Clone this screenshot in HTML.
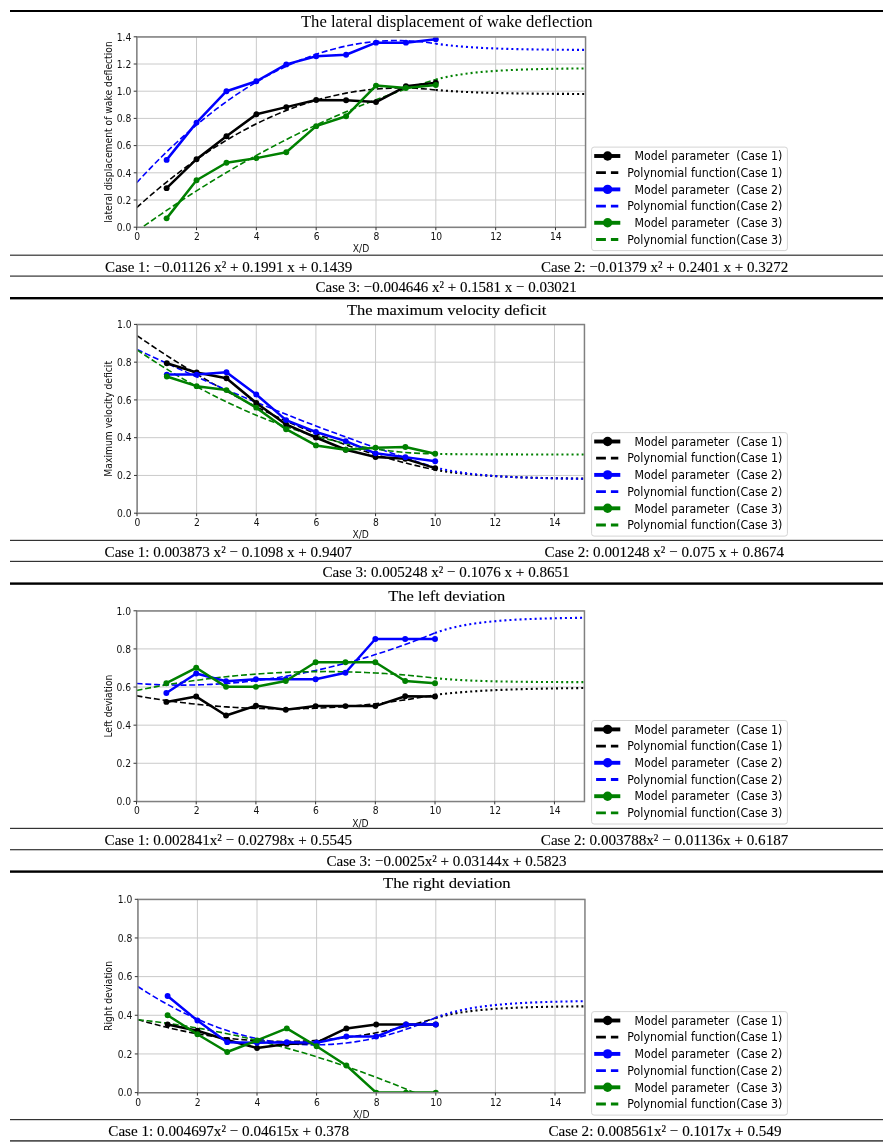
<!DOCTYPE html>
<html><head><meta charset="utf-8"><title>Wake model parameters</title>
<style>
html,body{margin:0;padding:0;background:#fff;}
body{width:892px;height:1147px;position:relative;overflow:hidden;}
svg{position:absolute;left:0;top:0;}
</style></head><body>

<svg width="892" height="1147" viewBox="0 0 892 1147">
<rect x="10" y="10.00" width="873" height="2.00" fill="#000"/>
<rect x="10" y="254.60" width="873" height="1.20" fill="#333"/>
<rect x="10" y="275.50" width="873" height="1.20" fill="#333"/>
<rect x="10" y="297.00" width="873" height="2.40" fill="#000"/>
<rect x="10" y="539.80" width="873" height="1.20" fill="#333"/>
<rect x="10" y="560.80" width="873" height="1.20" fill="#333"/>
<rect x="10" y="582.40" width="873" height="2.40" fill="#000"/>
<rect x="10" y="827.80" width="873" height="1.20" fill="#333"/>
<rect x="10" y="849.10" width="873" height="1.20" fill="#333"/>
<rect x="10" y="870.40" width="873" height="2.40" fill="#000"/>
<rect x="10" y="1119.00" width="873" height="1.20" fill="#333"/>
<rect x="10" y="1140.20" width="873" height="1.40" fill="#2a2a2a"/>
<g font-family="'Liberation Serif', serif" fill="#000">
<text x="300.90" y="26.80" font-size="16.2" textLength="291.80" lengthAdjust="spacingAndGlyphs">The lateral displacement of wake deflection</text>
<text x="105.10" y="271.70" font-size="15.5" textLength="247.20" lengthAdjust="spacingAndGlyphs" stroke="#000" stroke-width="0.12">Case 1: −0.01126 x<tspan font-size="15.5" dy="0">²</tspan><tspan dy="0"> + 0.1991 x + 0.1439</tspan></text>
<text x="541.00" y="271.70" font-size="15.5" textLength="247.30" lengthAdjust="spacingAndGlyphs" stroke="#000" stroke-width="0.12">Case 2: −0.01379 x<tspan font-size="15.5" dy="0">²</tspan><tspan dy="0"> + 0.2401 x + 0.3272</tspan></text>
<text x="315.60" y="292.40" font-size="15.5" textLength="261.20" lengthAdjust="spacingAndGlyphs" stroke="#000" stroke-width="0.12">Case 3: −0.004646 x<tspan font-size="15.5" dy="0">²</tspan><tspan dy="0"> + 0.1581 x − 0.03021</tspan></text>
<text x="347.00" y="315.00" font-size="15.2" textLength="199.30" lengthAdjust="spacingAndGlyphs" stroke="#000" stroke-width="0.12">The maximum velocity deficit</text>
<text x="104.60" y="556.50" font-size="15.5" textLength="247.50" lengthAdjust="spacingAndGlyphs" stroke="#000" stroke-width="0.12">Case 1: 0.003873 x<tspan font-size="15.5" dy="0">²</tspan><tspan dy="0"> − 0.1098 x + 0.9407</tspan></text>
<text x="544.60" y="556.50" font-size="15.5" textLength="239.40" lengthAdjust="spacingAndGlyphs" stroke="#000" stroke-width="0.12">Case 2: 0.001248 x<tspan font-size="15.5" dy="0">²</tspan><tspan dy="0"> − 0.075 x + 0.8674</tspan></text>
<text x="322.40" y="577.30" font-size="15.5" textLength="247.20" lengthAdjust="spacingAndGlyphs" stroke="#000" stroke-width="0.12">Case 3: 0.005248 x<tspan font-size="15.5" dy="0">²</tspan><tspan dy="0"> − 0.1076 x + 0.8651</tspan></text>
<text x="388.30" y="600.60" font-size="15.2" textLength="116.90" lengthAdjust="spacingAndGlyphs" stroke="#000" stroke-width="0.12">The left deviation</text>
<text x="104.60" y="844.50" font-size="15.5" textLength="247.50" lengthAdjust="spacingAndGlyphs" stroke="#000" stroke-width="0.12">Case 1: 0.002841x<tspan font-size="15.5" dy="0">²</tspan><tspan dy="0"> − 0.02798x + 0.5545</tspan></text>
<text x="540.80" y="844.50" font-size="15.5" textLength="247.60" lengthAdjust="spacingAndGlyphs" stroke="#000" stroke-width="0.12">Case 2: 0.003788x<tspan font-size="15.5" dy="0">²</tspan><tspan dy="0"> − 0.01136x + 0.6187</tspan></text>
<text x="326.50" y="865.70" font-size="15.5" textLength="240.00" lengthAdjust="spacingAndGlyphs" stroke="#000" stroke-width="0.12">Case 3: −0.0025x<tspan font-size="15.5" dy="0">²</tspan><tspan dy="0"> + 0.03144x + 0.5823</tspan></text>
<text x="383.00" y="888.30" font-size="15.2" textLength="127.60" lengthAdjust="spacingAndGlyphs" stroke="#000" stroke-width="0.12">The right deviation</text>
<text x="108.30" y="1135.60" font-size="15.5" textLength="240.70" lengthAdjust="spacingAndGlyphs" stroke="#000" stroke-width="0.12">Case 1: 0.004697x<tspan font-size="15.5" dy="0">²</tspan><tspan dy="0"> − 0.04615x + 0.378</tspan></text>
<text x="548.40" y="1135.60" font-size="15.5" textLength="233.10" lengthAdjust="spacingAndGlyphs" stroke="#000" stroke-width="0.12">Case 2: 0.008561x<tspan font-size="15.5" dy="0">²</tspan><tspan dy="0"> − 0.1017x + 0.549</tspan></text>
</g>
<defs><clipPath id="clip0"><rect x="136.70" y="36.80" width="448.70" height="190.40"/></clipPath></defs>
<path d="M136.70 36.80V227.20M196.53 36.80V227.20M256.35 36.80V227.20M316.18 36.80V227.20M376.01 36.80V227.20M435.83 36.80V227.20M495.66 36.80V227.20M555.49 36.80V227.20M136.70 227.20H585.40M136.70 200.00H585.40M136.70 172.80H585.40M136.70 145.60H585.40M136.70 118.40H585.40M136.70 91.20H585.40M136.70 64.00H585.40M136.70 36.80H585.40" stroke="#cacaca" stroke-width="1" fill="none"/>
<g clip-path="url(#clip0)" fill="none">
<polyline points="435.83,89.99 438.33,90.20 440.82,90.40 443.31,90.59 445.80,90.77 448.30,90.95 450.79,91.11 453.28,91.26 455.78,91.41 458.27,91.55 460.76,91.69 463.25,91.81 465.75,91.93 468.24,92.05 470.73,92.15 473.23,92.26 475.72,92.35 478.21,92.45 480.70,92.53 483.20,92.62 485.69,92.70 488.18,92.77 490.67,92.84 493.17,92.91 495.66,92.98 498.15,93.04 500.65,93.10 503.14,93.15 505.63,93.20 508.12,93.25 510.62,93.30 513.11,93.34 515.60,93.39 518.10,93.43 520.59,93.47 523.08,93.50 525.57,93.54 528.07,93.57 530.56,93.60 533.05,93.63 535.54,93.66 538.04,93.69 540.53,93.71 543.02,93.74 545.52,93.76 548.01,93.78 550.50,93.80 552.99,93.82 555.49,93.84 557.98,93.86 560.47,93.87 562.96,93.89 565.46,93.91 567.95,93.92 570.44,93.93 572.94,93.95 575.43,93.96 577.92,93.97 580.41,93.98 582.91,93.99 585.40,94.00" stroke="#000000" stroke-width="2.1" stroke-dasharray="2 3.05"/>
<polyline points="435.83,43.71 438.33,44.06 440.82,44.40 443.31,44.71 445.80,45.01 448.30,45.29 450.79,45.56 453.28,45.81 455.78,46.05 458.27,46.27 460.76,46.49 463.25,46.69 465.75,46.88 468.24,47.06 470.73,47.22 473.23,47.38 475.72,47.54 478.21,47.68 480.70,47.81 483.20,47.94 485.69,48.06 488.18,48.18 490.67,48.28 493.17,48.38 495.66,48.48 498.15,48.57 500.65,48.66 503.14,48.74 505.63,48.81 508.12,48.89 510.62,48.96 513.11,49.02 515.60,49.08 518.10,49.14 520.59,49.19 523.08,49.24 525.57,49.29 528.07,49.34 530.56,49.38 533.05,49.42 535.54,49.46 538.04,49.50 540.53,49.53 543.02,49.57 545.52,49.60 548.01,49.63 550.50,49.65 552.99,49.68 555.49,49.71 557.98,49.73 560.47,49.75 562.96,49.77 565.46,49.79 567.95,49.81 570.44,49.83 572.94,49.84 575.43,49.86 577.92,49.87 580.41,49.89 582.91,49.90 585.40,49.91" stroke="#0000ff" stroke-width="2.1" stroke-dasharray="2 3.05"/>
<polyline points="435.83,79.48 438.33,78.83 440.82,78.22 443.31,77.65 445.80,77.11 448.30,76.59 450.79,76.11 453.28,75.66 455.78,75.23 458.27,74.82 460.76,74.44 463.25,74.08 465.75,73.74 468.24,73.42 470.73,73.12 473.23,72.83 475.72,72.56 478.21,72.31 480.70,72.07 483.20,71.84 485.69,71.63 488.18,71.43 490.67,71.24 493.17,71.06 495.66,70.89 498.15,70.73 500.65,70.58 503.14,70.44 505.63,70.31 508.12,70.18 510.62,70.06 513.11,69.95 515.60,69.84 518.10,69.74 520.59,69.65 523.08,69.56 525.57,69.48 528.07,69.40 530.56,69.32 533.05,69.25 535.54,69.19 538.04,69.12 540.53,69.06 543.02,69.01 545.52,68.96 548.01,68.91 550.50,68.86 552.99,68.81 555.49,68.77 557.98,68.73 560.47,68.70 562.96,68.66 565.46,68.63 567.95,68.60 570.44,68.57 572.94,68.54 575.43,68.51 577.92,68.49 580.41,68.47 582.91,68.44 585.40,68.42" stroke="#008000" stroke-width="2.1" stroke-dasharray="2 3.05"/>
<polyline points="136.70,207.63 141.69,203.16 146.67,198.77 151.66,194.47 156.64,190.26 161.63,186.13 166.61,182.08 171.60,178.12 176.58,174.25 181.57,170.46 186.56,166.75 191.54,163.13 196.53,159.60 201.51,156.15 206.50,152.79 211.48,149.51 216.47,146.31 221.45,143.20 226.44,140.18 231.43,137.24 236.41,134.39 241.40,131.62 246.38,128.93 251.37,126.33 256.35,123.82 261.34,121.39 266.32,119.05 271.31,116.79 276.30,114.62 281.28,112.53 286.27,110.53 291.25,108.61 296.24,106.77 301.22,105.03 306.21,103.36 311.19,101.79 316.18,100.29 321.17,98.89 326.15,97.56 331.14,96.33 336.12,95.17 341.11,94.11 346.09,93.12 351.08,92.23 356.06,91.41 361.05,90.69 366.04,90.04 371.02,89.49 376.01,89.02 380.99,88.63 385.98,88.33 390.96,88.11 395.95,87.98 400.93,87.93 405.92,87.97 410.91,88.10 415.89,88.30 420.88,88.60 425.86,88.98 430.85,89.44 435.83,89.99" stroke="#000000" stroke-width="1.6" stroke-dasharray="6 2.8"/>
<polyline points="136.70,182.70 141.69,177.31 146.67,172.02 151.66,166.84 156.64,161.77 161.63,156.79 166.61,151.92 171.60,147.16 176.58,142.50 181.57,137.94 186.56,133.49 191.54,129.14 196.53,124.90 201.51,120.76 206.50,116.72 211.48,112.79 216.47,108.96 221.45,105.24 226.44,101.62 231.43,98.10 236.41,94.69 241.40,91.39 246.38,88.19 251.37,85.09 256.35,82.09 261.34,79.20 266.32,76.42 271.31,73.74 276.30,71.16 281.28,68.69 286.27,66.32 291.25,64.05 296.24,61.89 301.22,59.84 306.21,57.89 311.19,56.04 316.18,54.30 321.17,52.66 326.15,51.12 331.14,49.69 336.12,48.36 341.11,47.14 346.09,46.02 351.08,45.01 356.06,44.10 361.05,43.29 366.04,42.59 371.02,41.99 376.01,41.50 380.99,41.11 385.98,40.83 390.96,40.65 395.95,40.57 400.93,40.60 405.92,40.73 410.91,40.97 415.89,41.31 420.88,41.75 425.86,42.30 430.85,42.95 435.83,43.71" stroke="#0000ff" stroke-width="1.6" stroke-dasharray="6 2.8"/>
<polyline points="136.70,231.31 141.69,227.74 146.67,224.21 151.66,220.72 156.64,217.25 161.63,213.83 166.61,210.44 171.60,207.08 176.58,203.76 181.57,200.48 186.56,197.23 191.54,194.01 196.53,190.83 201.51,187.69 206.50,184.58 211.48,181.50 216.47,178.46 221.45,175.46 226.44,172.49 231.43,169.56 236.41,166.66 241.40,163.79 246.38,160.96 251.37,158.17 256.35,155.41 261.34,152.69 266.32,150.00 271.31,147.35 276.30,144.73 281.28,142.15 286.27,139.60 291.25,137.08 296.24,134.61 301.22,132.16 306.21,129.76 311.19,127.38 316.18,125.05 321.17,122.74 326.15,120.48 331.14,118.24 336.12,116.05 341.11,113.89 346.09,111.76 351.08,109.67 356.06,107.61 361.05,105.59 366.04,103.60 371.02,101.65 376.01,99.73 380.99,97.85 385.98,96.01 390.96,94.20 395.95,92.42 400.93,90.68 405.92,88.97 410.91,87.30 415.89,85.67 420.88,84.07 425.86,82.50 430.85,80.97 435.83,79.48" stroke="#008000" stroke-width="1.6" stroke-dasharray="6 2.8"/>
<polyline points="166.61,188.17 196.53,159.20 226.44,136.22 256.35,114.32 286.27,107.11 316.18,100.04 346.09,100.31 376.01,102.08 405.92,86.30 435.83,82.77" stroke="#000000" stroke-width="2.5" fill="none" stroke-linejoin="round"/>
<circle cx="166.61" cy="188.17" r="2.95" fill="#000000"/>
<circle cx="196.53" cy="159.20" r="2.95" fill="#000000"/>
<circle cx="226.44" cy="136.22" r="2.95" fill="#000000"/>
<circle cx="256.35" cy="114.32" r="2.95" fill="#000000"/>
<circle cx="286.27" cy="107.11" r="2.95" fill="#000000"/>
<circle cx="316.18" cy="100.04" r="2.95" fill="#000000"/>
<circle cx="346.09" cy="100.31" r="2.95" fill="#000000"/>
<circle cx="376.01" cy="102.08" r="2.95" fill="#000000"/>
<circle cx="405.92" cy="86.30" r="2.95" fill="#000000"/>
<circle cx="435.83" cy="82.77" r="2.95" fill="#000000"/>
<polyline points="166.61,159.88 196.53,122.62 226.44,91.20 256.35,81.27 286.27,64.41 316.18,56.25 346.09,54.75 376.01,42.65 405.92,42.65 435.83,39.25" stroke="#0000ff" stroke-width="2.5" fill="none" stroke-linejoin="round"/>
<circle cx="166.61" cy="159.88" r="2.95" fill="#0000ff"/>
<circle cx="196.53" cy="122.62" r="2.95" fill="#0000ff"/>
<circle cx="226.44" cy="91.20" r="2.95" fill="#0000ff"/>
<circle cx="256.35" cy="81.27" r="2.95" fill="#0000ff"/>
<circle cx="286.27" cy="64.41" r="2.95" fill="#0000ff"/>
<circle cx="316.18" cy="56.25" r="2.95" fill="#0000ff"/>
<circle cx="346.09" cy="54.75" r="2.95" fill="#0000ff"/>
<circle cx="376.01" cy="42.65" r="2.95" fill="#0000ff"/>
<circle cx="405.92" cy="42.65" r="2.95" fill="#0000ff"/>
<circle cx="435.83" cy="39.25" r="2.95" fill="#0000ff"/>
<polyline points="166.61,218.36 196.53,180.28 226.44,162.74 256.35,158.11 286.27,152.26 316.18,126.15 346.09,116.22 376.01,85.62 405.92,88.07 435.83,84.94" stroke="#008000" stroke-width="2.5" fill="none" stroke-linejoin="round"/>
<circle cx="166.61" cy="218.36" r="2.95" fill="#008000"/>
<circle cx="196.53" cy="180.28" r="2.95" fill="#008000"/>
<circle cx="226.44" cy="162.74" r="2.95" fill="#008000"/>
<circle cx="256.35" cy="158.11" r="2.95" fill="#008000"/>
<circle cx="286.27" cy="152.26" r="2.95" fill="#008000"/>
<circle cx="316.18" cy="126.15" r="2.95" fill="#008000"/>
<circle cx="346.09" cy="116.22" r="2.95" fill="#008000"/>
<circle cx="376.01" cy="85.62" r="2.95" fill="#008000"/>
<circle cx="405.92" cy="88.07" r="2.95" fill="#008000"/>
<circle cx="435.83" cy="84.94" r="2.95" fill="#008000"/>
</g>
<rect x="136.85" y="36.95" width="448.70" height="190.40" fill="none" stroke="#808080" stroke-width="1.5"/>
<path d="M136.70 227.20v3M196.53 227.20v3M256.35 227.20v3M316.18 227.20v3M376.01 227.20v3M435.83 227.20v3M495.66 227.20v3M555.49 227.20v3M136.70 227.20h-3M136.70 200.00h-3M136.70 172.80h-3M136.70 145.60h-3M136.70 118.40h-3M136.70 91.20h-3M136.70 64.00h-3M136.70 36.80h-3" stroke="#333" stroke-width="1"/>
<g font-family="DejaVu Sans, sans-serif" font-size="9.8" fill="#111">
<text x="134.17" y="240.10" textLength="5.85" lengthAdjust="spacingAndGlyphs">0</text>
<text x="194.00" y="240.10" textLength="5.85" lengthAdjust="spacingAndGlyphs">2</text>
<text x="253.83" y="240.10" textLength="5.85" lengthAdjust="spacingAndGlyphs">4</text>
<text x="313.65" y="240.10" textLength="5.85" lengthAdjust="spacingAndGlyphs">6</text>
<text x="373.48" y="240.10" textLength="5.85" lengthAdjust="spacingAndGlyphs">8</text>
<text x="430.38" y="240.10" textLength="11.71" lengthAdjust="spacingAndGlyphs">10</text>
<text x="490.21" y="240.10" textLength="11.71" lengthAdjust="spacingAndGlyphs">12</text>
<text x="550.03" y="240.10" textLength="11.71" lengthAdjust="spacingAndGlyphs">14</text>
<text x="116.67" y="230.90" textLength="14.63" lengthAdjust="spacingAndGlyphs">0.0</text>
<text x="116.67" y="203.70" textLength="14.63" lengthAdjust="spacingAndGlyphs">0.2</text>
<text x="116.67" y="176.50" textLength="14.63" lengthAdjust="spacingAndGlyphs">0.4</text>
<text x="116.67" y="149.30" textLength="14.63" lengthAdjust="spacingAndGlyphs">0.6</text>
<text x="116.67" y="122.10" textLength="14.63" lengthAdjust="spacingAndGlyphs">0.8</text>
<text x="116.67" y="94.90" textLength="14.63" lengthAdjust="spacingAndGlyphs">1.0</text>
<text x="116.67" y="67.70" textLength="14.63" lengthAdjust="spacingAndGlyphs">1.2</text>
<text x="116.67" y="40.50" textLength="14.63" lengthAdjust="spacingAndGlyphs">1.4</text>
<text x="352.81" y="252.30" textLength="16.49" lengthAdjust="spacingAndGlyphs">X/D</text>
<text transform="translate(112.40 132.00) rotate(-90)" x="-90.73" y="0" textLength="181.46" lengthAdjust="spacingAndGlyphs">lateral displacement of wake deflection</text>
</g>
<rect x="591.60" y="147.10" width="195.80" height="103.50" rx="2.5" fill="#fff" fill-opacity="0.85" stroke="#d4d4d4" stroke-width="1"/>
<path d="M594.2 156.00H620.3" stroke="#000000" stroke-width="3.9"/>
<circle cx="607.6" cy="156.00" r="4.7" fill="#000000"/>
<text x="634.60" y="160.20" font-family="DejaVu Sans, sans-serif" font-size="11.8" fill="#000" textLength="147.80" lengthAdjust="spacingAndGlyphs">Model parameter  (Case 1)</text>
<path d="M596.1 172.70H618.3" stroke="#000000" stroke-width="2.8" stroke-dasharray="9.8 5"/>
<text x="627.30" y="176.90" font-family="DejaVu Sans, sans-serif" font-size="11.8" fill="#000" textLength="155.10" lengthAdjust="spacingAndGlyphs">Polynomial function(Case 1)</text>
<path d="M594.2 189.40H620.3" stroke="#0000ff" stroke-width="3.9"/>
<circle cx="607.6" cy="189.40" r="4.7" fill="#0000ff"/>
<text x="634.60" y="193.60" font-family="DejaVu Sans, sans-serif" font-size="11.8" fill="#000" textLength="147.80" lengthAdjust="spacingAndGlyphs">Model parameter  (Case 2)</text>
<path d="M596.1 206.10H618.3" stroke="#0000ff" stroke-width="2.8" stroke-dasharray="9.8 5"/>
<text x="627.30" y="210.30" font-family="DejaVu Sans, sans-serif" font-size="11.8" fill="#000" textLength="155.10" lengthAdjust="spacingAndGlyphs">Polynomial function(Case 2)</text>
<path d="M594.2 222.80H620.3" stroke="#008000" stroke-width="3.9"/>
<circle cx="607.6" cy="222.80" r="4.7" fill="#008000"/>
<text x="634.60" y="227.00" font-family="DejaVu Sans, sans-serif" font-size="11.8" fill="#000" textLength="147.80" lengthAdjust="spacingAndGlyphs">Model parameter  (Case 3)</text>
<path d="M596.1 239.50H618.3" stroke="#008000" stroke-width="2.8" stroke-dasharray="9.8 5"/>
<text x="627.30" y="243.70" font-family="DejaVu Sans, sans-serif" font-size="11.8" fill="#000" textLength="155.10" lengthAdjust="spacingAndGlyphs">Polynomial function(Case 3)</text>
<defs><clipPath id="clip1"><rect x="137.00" y="324.40" width="447.30" height="188.80"/></clipPath></defs>
<path d="M137.00 324.40V513.20M196.64 324.40V513.20M256.28 324.40V513.20M315.92 324.40V513.20M375.56 324.40V513.20M435.20 324.40V513.20M494.84 324.40V513.20M554.48 324.40V513.20M137.00 513.20H584.30M137.00 475.44H584.30M137.00 437.68H584.30M137.00 399.92H584.30M137.00 362.16H584.30M137.00 324.40H584.30" stroke="#cacaca" stroke-width="1" fill="none"/>
<g clip-path="url(#clip1)" fill="none">
<polyline points="435.20,469.78 437.69,470.21 440.17,470.62 442.65,471.01 445.14,471.38 447.62,471.74 450.11,472.08 452.59,472.41 455.08,472.72 457.56,473.01 460.05,473.30 462.53,473.57 465.02,473.82 467.50,474.07 469.99,474.30 472.47,474.53 474.96,474.74 477.44,474.95 479.93,475.14 482.41,475.33 484.90,475.50 487.38,475.67 489.87,475.83 492.35,475.99 494.84,476.14 497.32,476.28 499.81,476.41 502.29,476.54 504.78,476.66 507.26,476.78 509.75,476.89 512.23,476.99 514.72,477.10 517.20,477.19 519.69,477.28 522.17,477.37 524.66,477.46 527.14,477.54 529.63,477.61 532.12,477.69 534.60,477.76 537.08,477.82 539.57,477.89 542.05,477.95 544.54,478.00 547.02,478.06 549.51,478.11 551.99,478.16 554.48,478.21 556.96,478.26 559.45,478.30 561.93,478.34 564.42,478.38 566.90,478.42 569.39,478.46 571.88,478.49 574.36,478.52 576.85,478.56 579.33,478.59 581.82,478.61 584.30,478.64" stroke="#000000" stroke-width="2.1" stroke-dasharray="2 3.05"/>
<polyline points="435.20,467.47 437.69,468.09 440.17,468.68 442.65,469.23 445.14,469.76 447.62,470.26 450.11,470.73 452.59,471.18 455.08,471.60 457.56,472.00 460.05,472.38 462.53,472.74 465.02,473.09 467.50,473.41 469.99,473.71 472.47,474.00 474.96,474.28 477.44,474.54 479.93,474.79 482.41,475.02 484.90,475.24 487.38,475.45 489.87,475.65 492.35,475.84 494.84,476.02 497.32,476.18 499.81,476.34 502.29,476.50 504.78,476.64 507.26,476.77 509.75,476.90 512.23,477.03 514.72,477.14 517.20,477.25 519.69,477.35 522.17,477.45 524.66,477.55 527.14,477.63 529.63,477.72 532.12,477.80 534.60,477.87 537.08,477.94 539.57,478.01 542.05,478.07 544.54,478.13 547.02,478.19 549.51,478.24 551.99,478.30 554.48,478.34 556.96,478.39 559.45,478.43 561.93,478.47 564.42,478.51 566.90,478.55 569.39,478.59 571.88,478.62 574.36,478.65 576.85,478.68 579.33,478.71 581.82,478.74 584.30,478.76" stroke="#0000ff" stroke-width="2.1" stroke-dasharray="2 3.05"/>
<polyline points="435.20,453.94 437.69,453.97 440.17,454.00 442.65,454.03 445.14,454.06 447.62,454.09 450.11,454.12 452.59,454.14 455.08,454.16 457.56,454.18 460.05,454.20 462.53,454.22 465.02,454.24 467.50,454.25 469.99,454.27 472.47,454.28 474.96,454.29 477.44,454.31 479.93,454.32 482.41,454.33 484.90,454.34 487.38,454.35 489.87,454.36 492.35,454.37 494.84,454.37 497.32,454.38 499.81,454.39 502.29,454.39 504.78,454.40 507.26,454.40 509.75,454.41 512.23,454.41 514.72,454.42 517.20,454.42 519.69,454.43 522.17,454.43 524.66,454.43 527.14,454.44 529.63,454.44 532.12,454.44 534.60,454.45 537.08,454.45 539.57,454.45 542.05,454.45 544.54,454.45 547.02,454.46 549.51,454.46 551.99,454.46 554.48,454.46 556.96,454.46 559.45,454.46 561.93,454.46 564.42,454.47 566.90,454.47 569.39,454.47 571.88,454.47 574.36,454.47 576.85,454.47 579.33,454.47 581.82,454.47 584.30,454.47" stroke="#008000" stroke-width="2.1" stroke-dasharray="2 3.05"/>
<polyline points="137.00,335.60 141.97,339.03 146.94,342.42 151.91,345.78 156.88,349.09 161.85,352.36 166.82,355.59 171.79,358.79 176.76,361.94 181.73,365.05 186.70,368.12 191.67,371.14 196.64,374.13 201.61,377.08 206.58,379.99 211.55,382.85 216.52,385.68 221.49,388.46 226.46,391.21 231.43,393.91 236.40,396.57 241.37,399.19 246.34,401.78 251.31,404.32 256.28,406.82 261.25,409.28 266.22,411.70 271.19,414.07 276.16,416.41 281.13,418.71 286.10,420.97 291.07,423.18 296.04,425.36 301.01,427.49 305.98,429.59 310.95,431.64 315.92,433.65 320.89,435.63 325.86,437.56 330.83,439.45 335.80,441.30 340.77,443.11 345.74,444.88 350.71,446.61 355.68,448.29 360.65,449.94 365.62,451.55 370.59,453.11 375.56,454.64 380.53,456.12 385.50,457.57 390.47,458.97 395.44,460.33 400.41,461.66 405.38,462.94 410.35,464.18 415.32,465.38 420.29,466.54 425.26,467.66 430.23,468.74 435.20,469.78" stroke="#000000" stroke-width="1.6" stroke-dasharray="6 2.8"/>
<polyline points="137.00,349.43 141.97,351.79 146.94,354.13 151.91,356.46 156.88,358.77 161.85,361.07 166.82,363.36 171.79,365.63 176.76,367.90 181.73,370.14 186.70,372.38 191.67,374.60 196.64,376.81 201.61,379.01 206.58,381.19 211.55,383.36 216.52,385.52 221.49,387.66 226.46,389.79 231.43,391.91 236.40,394.02 241.37,396.11 246.34,398.19 251.31,400.25 256.28,402.30 261.25,404.34 266.22,406.37 271.19,408.38 276.16,410.38 281.13,412.37 286.10,414.34 291.07,416.31 296.04,418.25 301.01,420.19 305.98,422.11 310.95,424.02 315.92,425.91 320.89,427.79 325.86,429.66 330.83,431.52 335.80,433.36 340.77,435.19 345.74,437.01 350.71,438.81 355.68,440.60 360.65,442.38 365.62,444.15 370.59,445.90 375.56,447.64 380.53,449.36 385.50,451.07 390.47,452.77 395.44,454.46 400.41,456.13 405.38,457.79 410.35,459.44 415.32,461.07 420.29,462.69 425.26,464.30 430.23,465.89 435.20,467.47" stroke="#0000ff" stroke-width="1.6" stroke-dasharray="6 2.8"/>
<polyline points="137.00,349.87 141.97,353.23 146.94,356.53 151.91,359.78 156.88,362.97 161.85,366.11 166.82,369.19 171.79,372.22 176.76,375.19 181.73,378.11 186.70,380.97 191.67,383.78 196.64,386.54 201.61,389.23 206.58,391.88 211.55,394.46 216.52,397.00 221.49,399.47 226.46,401.90 231.43,404.26 236.40,406.58 241.37,408.83 246.34,411.04 251.31,413.18 256.28,415.28 261.25,417.31 266.22,419.29 271.19,421.22 276.16,423.09 281.13,424.91 286.10,426.67 291.07,428.38 296.04,430.03 301.01,431.63 305.98,433.17 310.95,434.66 315.92,436.09 320.89,437.47 325.86,438.79 330.83,440.05 335.80,441.27 340.77,442.42 345.74,443.52 350.71,444.57 355.68,445.56 360.65,446.50 365.62,447.38 370.59,448.20 375.56,448.98 380.53,449.69 385.50,450.35 390.47,450.96 395.44,451.51 400.41,452.01 405.38,452.45 410.35,452.83 415.32,453.16 420.29,453.44 425.26,453.66 430.23,453.83 435.20,453.94" stroke="#008000" stroke-width="1.6" stroke-dasharray="6 2.8"/>
<polyline points="166.82,363.29 196.64,372.54 226.46,378.21 256.28,402.94 286.10,424.46 315.92,437.49 345.74,449.76 375.56,456.94 405.38,458.83 435.20,468.08" stroke="#000000" stroke-width="2.5" fill="none" stroke-linejoin="round"/>
<circle cx="166.82" cy="363.29" r="2.95" fill="#000000"/>
<circle cx="196.64" cy="372.54" r="2.95" fill="#000000"/>
<circle cx="226.46" cy="378.21" r="2.95" fill="#000000"/>
<circle cx="256.28" cy="402.94" r="2.95" fill="#000000"/>
<circle cx="286.10" cy="424.46" r="2.95" fill="#000000"/>
<circle cx="315.92" cy="437.49" r="2.95" fill="#000000"/>
<circle cx="345.74" cy="449.76" r="2.95" fill="#000000"/>
<circle cx="375.56" cy="456.94" r="2.95" fill="#000000"/>
<circle cx="405.38" cy="458.83" r="2.95" fill="#000000"/>
<circle cx="435.20" cy="468.08" r="2.95" fill="#000000"/>
<polyline points="166.82,374.62 196.64,374.62 226.46,372.17 256.28,394.44 286.10,420.12 315.92,432.02 345.74,441.08 375.56,453.35 405.38,457.13 435.20,461.28" stroke="#0000ff" stroke-width="2.5" fill="none" stroke-linejoin="round"/>
<circle cx="166.82" cy="374.62" r="2.95" fill="#0000ff"/>
<circle cx="196.64" cy="374.62" r="2.95" fill="#0000ff"/>
<circle cx="226.46" cy="372.17" r="2.95" fill="#0000ff"/>
<circle cx="256.28" cy="394.44" r="2.95" fill="#0000ff"/>
<circle cx="286.10" cy="420.12" r="2.95" fill="#0000ff"/>
<circle cx="315.92" cy="432.02" r="2.95" fill="#0000ff"/>
<circle cx="345.74" cy="441.08" r="2.95" fill="#0000ff"/>
<circle cx="375.56" cy="453.35" r="2.95" fill="#0000ff"/>
<circle cx="405.38" cy="457.13" r="2.95" fill="#0000ff"/>
<circle cx="435.20" cy="461.28" r="2.95" fill="#0000ff"/>
<polyline points="166.82,376.51 196.64,386.14 226.46,390.10 256.28,407.66 286.10,429.18 315.92,445.42 345.74,449.76 375.56,447.69 405.38,446.93 435.20,453.73" stroke="#008000" stroke-width="2.5" fill="none" stroke-linejoin="round"/>
<circle cx="166.82" cy="376.51" r="2.95" fill="#008000"/>
<circle cx="196.64" cy="386.14" r="2.95" fill="#008000"/>
<circle cx="226.46" cy="390.10" r="2.95" fill="#008000"/>
<circle cx="256.28" cy="407.66" r="2.95" fill="#008000"/>
<circle cx="286.10" cy="429.18" r="2.95" fill="#008000"/>
<circle cx="315.92" cy="445.42" r="2.95" fill="#008000"/>
<circle cx="345.74" cy="449.76" r="2.95" fill="#008000"/>
<circle cx="375.56" cy="447.69" r="2.95" fill="#008000"/>
<circle cx="405.38" cy="446.93" r="2.95" fill="#008000"/>
<circle cx="435.20" cy="453.73" r="2.95" fill="#008000"/>
</g>
<rect x="137.15" y="324.55" width="447.30" height="188.80" fill="none" stroke="#808080" stroke-width="1.5"/>
<path d="M137.00 513.20v3M196.64 513.20v3M256.28 513.20v3M315.92 513.20v3M375.56 513.20v3M435.20 513.20v3M494.84 513.20v3M554.48 513.20v3M137.00 513.20h-3M137.00 475.44h-3M137.00 437.68h-3M137.00 399.92h-3M137.00 362.16h-3M137.00 324.40h-3" stroke="#333" stroke-width="1"/>
<g font-family="DejaVu Sans, sans-serif" font-size="9.8" fill="#111">
<text x="134.47" y="526.10" textLength="5.85" lengthAdjust="spacingAndGlyphs">0</text>
<text x="194.11" y="526.10" textLength="5.85" lengthAdjust="spacingAndGlyphs">2</text>
<text x="253.75" y="526.10" textLength="5.85" lengthAdjust="spacingAndGlyphs">4</text>
<text x="313.39" y="526.10" textLength="5.85" lengthAdjust="spacingAndGlyphs">6</text>
<text x="373.03" y="526.10" textLength="5.85" lengthAdjust="spacingAndGlyphs">8</text>
<text x="429.75" y="526.10" textLength="11.71" lengthAdjust="spacingAndGlyphs">10</text>
<text x="489.39" y="526.10" textLength="11.71" lengthAdjust="spacingAndGlyphs">12</text>
<text x="549.03" y="526.10" textLength="11.71" lengthAdjust="spacingAndGlyphs">14</text>
<text x="116.97" y="516.90" textLength="14.63" lengthAdjust="spacingAndGlyphs">0.0</text>
<text x="116.97" y="479.14" textLength="14.63" lengthAdjust="spacingAndGlyphs">0.2</text>
<text x="116.97" y="441.38" textLength="14.63" lengthAdjust="spacingAndGlyphs">0.4</text>
<text x="116.97" y="403.62" textLength="14.63" lengthAdjust="spacingAndGlyphs">0.6</text>
<text x="116.97" y="365.86" textLength="14.63" lengthAdjust="spacingAndGlyphs">0.8</text>
<text x="116.97" y="328.10" textLength="14.63" lengthAdjust="spacingAndGlyphs">1.0</text>
<text x="352.41" y="538.30" textLength="16.49" lengthAdjust="spacingAndGlyphs">X/D</text>
<text transform="translate(112.40 418.80) rotate(-90)" x="-57.83" y="0" textLength="115.65" lengthAdjust="spacingAndGlyphs">Maximum velocity deficit</text>
</g>
<rect x="591.60" y="432.60" width="195.80" height="103.50" rx="2.5" fill="#fff" fill-opacity="0.85" stroke="#d4d4d4" stroke-width="1"/>
<path d="M594.2 441.50H620.3" stroke="#000000" stroke-width="3.9"/>
<circle cx="607.6" cy="441.50" r="4.7" fill="#000000"/>
<text x="634.60" y="445.70" font-family="DejaVu Sans, sans-serif" font-size="11.8" fill="#000" textLength="147.80" lengthAdjust="spacingAndGlyphs">Model parameter  (Case 1)</text>
<path d="M596.1 458.20H618.3" stroke="#000000" stroke-width="2.8" stroke-dasharray="9.8 5"/>
<text x="627.30" y="462.40" font-family="DejaVu Sans, sans-serif" font-size="11.8" fill="#000" textLength="155.10" lengthAdjust="spacingAndGlyphs">Polynomial function(Case 1)</text>
<path d="M594.2 474.90H620.3" stroke="#0000ff" stroke-width="3.9"/>
<circle cx="607.6" cy="474.90" r="4.7" fill="#0000ff"/>
<text x="634.60" y="479.10" font-family="DejaVu Sans, sans-serif" font-size="11.8" fill="#000" textLength="147.80" lengthAdjust="spacingAndGlyphs">Model parameter  (Case 2)</text>
<path d="M596.1 491.60H618.3" stroke="#0000ff" stroke-width="2.8" stroke-dasharray="9.8 5"/>
<text x="627.30" y="495.80" font-family="DejaVu Sans, sans-serif" font-size="11.8" fill="#000" textLength="155.10" lengthAdjust="spacingAndGlyphs">Polynomial function(Case 2)</text>
<path d="M594.2 508.30H620.3" stroke="#008000" stroke-width="3.9"/>
<circle cx="607.6" cy="508.30" r="4.7" fill="#008000"/>
<text x="634.60" y="512.50" font-family="DejaVu Sans, sans-serif" font-size="11.8" fill="#000" textLength="147.80" lengthAdjust="spacingAndGlyphs">Model parameter  (Case 3)</text>
<path d="M596.1 525.00H618.3" stroke="#008000" stroke-width="2.8" stroke-dasharray="9.8 5"/>
<text x="627.30" y="529.20" font-family="DejaVu Sans, sans-serif" font-size="11.8" fill="#000" textLength="155.10" lengthAdjust="spacingAndGlyphs">Polynomial function(Case 3)</text>
<defs><clipPath id="clip2"><rect x="136.50" y="610.80" width="447.80" height="190.60"/></clipPath></defs>
<path d="M136.50 610.80V801.40M196.21 610.80V801.40M255.91 610.80V801.40M315.62 610.80V801.40M375.33 610.80V801.40M435.03 610.80V801.40M494.74 610.80V801.40M554.45 610.80V801.40M136.50 801.40H584.30M136.50 763.28H584.30M136.50 725.16H584.30M136.50 687.04H584.30M136.50 648.92H584.30M136.50 610.80H584.30" stroke="#cacaca" stroke-width="1" fill="none"/>
<g clip-path="url(#clip2)" fill="none">
<polyline points="435.03,694.89 437.52,694.59 440.01,694.30 442.50,694.01 444.98,693.75 447.47,693.49 449.96,693.24 452.45,693.00 454.94,692.77 457.42,692.56 459.91,692.35 462.40,692.15 464.89,691.95 467.37,691.77 469.86,691.59 472.35,691.42 474.84,691.26 477.33,691.10 479.81,690.95 482.30,690.81 484.79,690.67 487.28,690.54 489.76,690.41 492.25,690.29 494.74,690.17 497.23,690.06 499.72,689.95 502.20,689.85 504.69,689.75 507.18,689.65 509.67,689.56 512.15,689.47 514.64,689.39 517.13,689.31 519.62,689.23 522.11,689.16 524.59,689.09 527.08,689.02 529.57,688.96 532.06,688.89 534.54,688.83 537.03,688.77 539.52,688.72 542.01,688.67 544.50,688.62 546.98,688.57 549.47,688.52 551.96,688.48 554.45,688.43 556.93,688.39 559.42,688.35 561.91,688.31 564.40,688.28 566.89,688.24 569.37,688.21 571.86,688.18 574.35,688.15 576.84,688.12 579.32,688.09 581.81,688.06 584.30,688.03" stroke="#000000" stroke-width="2.1" stroke-dasharray="2 3.05"/>
<polyline points="435.03,632.93 437.52,632.05 440.01,631.23 442.50,630.45 444.98,629.71 447.47,629.02 449.96,628.36 452.45,627.74 454.94,627.16 457.42,626.61 459.91,626.09 462.40,625.59 464.89,625.13 467.37,624.69 469.86,624.28 472.35,623.89 474.84,623.52 477.33,623.17 479.81,622.84 482.30,622.53 484.79,622.24 487.28,621.96 489.76,621.70 492.25,621.45 494.74,621.22 497.23,621.00 499.72,620.79 502.20,620.59 504.69,620.41 507.18,620.23 509.67,620.07 512.15,619.91 514.64,619.77 517.13,619.63 519.62,619.50 522.11,619.37 524.59,619.25 527.08,619.14 529.57,619.04 532.06,618.94 534.54,618.85 537.03,618.76 539.52,618.68 542.01,618.60 544.50,618.53 546.98,618.46 549.47,618.39 551.96,618.33 554.45,618.27 556.93,618.22 559.42,618.16 561.91,618.11 564.40,618.07 566.89,618.02 569.37,617.98 571.86,617.94 574.35,617.91 576.84,617.87 579.32,617.84 581.81,617.81 584.30,617.78" stroke="#0000ff" stroke-width="2.1" stroke-dasharray="2 3.05"/>
<polyline points="435.03,678.14 437.52,678.38 440.01,678.61 442.50,678.83 444.98,679.03 447.47,679.22 449.96,679.40 452.45,679.57 454.94,679.73 457.42,679.88 459.91,680.02 462.40,680.16 464.89,680.28 467.37,680.40 469.86,680.51 472.35,680.61 474.84,680.71 477.33,680.80 479.81,680.89 482.30,680.97 484.79,681.05 487.28,681.12 489.76,681.19 492.25,681.25 494.74,681.31 497.23,681.37 499.72,681.42 502.20,681.47 504.69,681.52 507.18,681.57 509.67,681.61 512.15,681.65 514.64,681.68 517.13,681.72 519.62,681.75 522.11,681.78 524.59,681.81 527.08,681.84 529.57,681.87 532.06,681.89 534.54,681.91 537.03,681.93 539.52,681.95 542.01,681.97 544.50,681.99 546.98,682.01 549.47,682.02 551.96,682.04 554.45,682.05 556.93,682.07 559.42,682.08 561.91,682.09 564.40,682.10 566.89,682.11 569.37,682.12 571.86,682.13 574.35,682.14 576.84,682.15 579.32,682.15 581.81,682.16 584.30,682.17" stroke="#008000" stroke-width="2.1" stroke-dasharray="2 3.05"/>
<polyline points="136.50,695.71 141.48,696.59 146.45,697.43 151.43,698.24 156.40,699.03 161.38,699.78 166.35,700.50 171.33,701.20 176.30,701.86 181.28,702.49 186.26,703.10 191.23,703.67 196.21,704.21 201.18,704.73 206.16,705.21 211.13,705.66 216.11,706.08 221.08,706.48 226.06,706.84 231.04,707.17 236.01,707.47 240.99,707.74 245.96,707.99 250.94,708.20 255.91,708.38 260.89,708.53 265.86,708.65 270.84,708.75 275.82,708.81 280.79,708.84 285.77,708.84 290.74,708.81 295.72,708.75 300.69,708.66 305.67,708.54 310.64,708.40 315.62,708.22 320.60,708.01 325.57,707.77 330.55,707.50 335.52,707.20 340.50,706.87 345.47,706.51 350.45,706.12 355.42,705.70 360.40,705.25 365.38,704.77 370.35,704.26 375.33,703.72 380.30,703.15 385.28,702.55 390.25,701.92 395.23,701.26 400.20,700.57 405.18,699.85 410.16,699.10 415.13,698.32 420.11,697.51 425.08,696.66 430.06,695.79 435.03,694.89" stroke="#000000" stroke-width="1.6" stroke-dasharray="6 2.8"/>
<polyline points="136.50,683.48 141.48,683.82 146.45,684.12 151.43,684.38 156.40,684.60 161.38,684.78 166.35,684.92 171.33,685.02 176.30,685.08 181.28,685.10 186.26,685.08 191.23,685.02 196.21,684.92 201.18,684.78 206.16,684.60 211.13,684.38 216.11,684.12 221.08,683.81 226.06,683.47 231.04,683.09 236.01,682.67 240.99,682.21 245.96,681.71 250.94,681.17 255.91,680.58 260.89,679.96 265.86,679.30 270.84,678.60 275.82,677.86 280.79,677.07 285.77,676.25 290.74,675.39 295.72,674.49 300.69,673.54 305.67,672.56 310.64,671.54 315.62,670.48 320.60,669.37 325.57,668.23 330.55,667.05 335.52,665.82 340.50,664.56 345.47,663.25 350.45,661.91 355.42,660.53 360.40,659.10 365.38,657.64 370.35,656.13 375.33,654.59 380.30,653.01 385.28,651.38 390.25,649.72 395.23,648.01 400.20,646.27 405.18,644.48 410.16,642.66 415.13,640.79 420.11,638.89 425.08,636.94 430.06,634.95 435.03,632.93" stroke="#0000ff" stroke-width="1.6" stroke-dasharray="6 2.8"/>
<polyline points="136.50,690.41 141.48,689.43 146.45,688.47 151.43,687.54 156.40,686.63 161.38,685.75 166.35,684.90 171.33,684.07 176.30,683.27 181.28,682.50 186.26,681.75 191.23,681.03 196.21,680.33 201.18,679.67 206.16,679.03 211.13,678.41 216.11,677.82 221.08,677.26 226.06,676.72 231.04,676.22 236.01,675.73 240.99,675.28 245.96,674.85 250.94,674.44 255.91,674.07 260.89,673.72 265.86,673.39 270.84,673.10 275.82,672.83 280.79,672.58 285.77,672.36 290.74,672.17 295.72,672.01 300.69,671.87 305.67,671.76 310.64,671.67 315.62,671.61 320.60,671.58 325.57,671.57 330.55,671.59 335.52,671.64 340.50,671.72 345.47,671.81 350.45,671.94 355.42,672.09 360.40,672.27 365.38,672.48 370.35,672.71 375.33,672.97 380.30,673.26 385.28,673.57 390.25,673.90 395.23,674.27 400.20,674.66 405.18,675.08 410.16,675.52 415.13,675.99 420.11,676.49 425.08,677.01 430.06,677.56 435.03,678.14" stroke="#008000" stroke-width="1.6" stroke-dasharray="6 2.8"/>
<polyline points="166.35,701.91 196.21,696.57 226.06,715.44 255.91,705.72 285.77,709.72 315.62,706.10 345.47,706.10 375.33,706.10 405.18,696.19 435.03,696.57" stroke="#000000" stroke-width="2.5" fill="none" stroke-linejoin="round"/>
<circle cx="166.35" cy="701.91" r="2.95" fill="#000000"/>
<circle cx="196.21" cy="696.57" r="2.95" fill="#000000"/>
<circle cx="226.06" cy="715.44" r="2.95" fill="#000000"/>
<circle cx="255.91" cy="705.72" r="2.95" fill="#000000"/>
<circle cx="285.77" cy="709.72" r="2.95" fill="#000000"/>
<circle cx="315.62" cy="706.10" r="2.95" fill="#000000"/>
<circle cx="345.47" cy="706.10" r="2.95" fill="#000000"/>
<circle cx="375.33" cy="706.10" r="2.95" fill="#000000"/>
<circle cx="405.18" cy="696.19" r="2.95" fill="#000000"/>
<circle cx="435.03" cy="696.57" r="2.95" fill="#000000"/>
<polyline points="166.35,692.95 196.21,673.51 226.06,681.32 255.91,679.23 285.77,679.23 315.62,679.23 345.47,672.74 375.33,639.01 405.18,639.01 435.03,639.01" stroke="#0000ff" stroke-width="2.5" fill="none" stroke-linejoin="round"/>
<circle cx="166.35" cy="692.95" r="2.95" fill="#0000ff"/>
<circle cx="196.21" cy="673.51" r="2.95" fill="#0000ff"/>
<circle cx="226.06" cy="681.32" r="2.95" fill="#0000ff"/>
<circle cx="255.91" cy="679.23" r="2.95" fill="#0000ff"/>
<circle cx="285.77" cy="679.23" r="2.95" fill="#0000ff"/>
<circle cx="315.62" cy="679.23" r="2.95" fill="#0000ff"/>
<circle cx="345.47" cy="672.74" r="2.95" fill="#0000ff"/>
<circle cx="375.33" cy="639.01" r="2.95" fill="#0000ff"/>
<circle cx="405.18" cy="639.01" r="2.95" fill="#0000ff"/>
<circle cx="435.03" cy="639.01" r="2.95" fill="#0000ff"/>
<polyline points="166.35,683.23 196.21,667.79 226.06,686.85 255.91,686.85 285.77,680.94 315.62,662.26 345.47,662.26 375.33,662.26 405.18,680.94 435.03,683.23" stroke="#008000" stroke-width="2.5" fill="none" stroke-linejoin="round"/>
<circle cx="166.35" cy="683.23" r="2.95" fill="#008000"/>
<circle cx="196.21" cy="667.79" r="2.95" fill="#008000"/>
<circle cx="226.06" cy="686.85" r="2.95" fill="#008000"/>
<circle cx="255.91" cy="686.85" r="2.95" fill="#008000"/>
<circle cx="285.77" cy="680.94" r="2.95" fill="#008000"/>
<circle cx="315.62" cy="662.26" r="2.95" fill="#008000"/>
<circle cx="345.47" cy="662.26" r="2.95" fill="#008000"/>
<circle cx="375.33" cy="662.26" r="2.95" fill="#008000"/>
<circle cx="405.18" cy="680.94" r="2.95" fill="#008000"/>
<circle cx="435.03" cy="683.23" r="2.95" fill="#008000"/>
</g>
<rect x="136.65" y="610.95" width="447.80" height="190.60" fill="none" stroke="#808080" stroke-width="1.5"/>
<path d="M136.50 801.40v3M196.21 801.40v3M255.91 801.40v3M315.62 801.40v3M375.33 801.40v3M435.03 801.40v3M494.74 801.40v3M554.45 801.40v3M136.50 801.40h-3M136.50 763.28h-3M136.50 725.16h-3M136.50 687.04h-3M136.50 648.92h-3M136.50 610.80h-3" stroke="#333" stroke-width="1"/>
<g font-family="DejaVu Sans, sans-serif" font-size="9.8" fill="#111">
<text x="133.97" y="814.30" textLength="5.85" lengthAdjust="spacingAndGlyphs">0</text>
<text x="193.68" y="814.30" textLength="5.85" lengthAdjust="spacingAndGlyphs">2</text>
<text x="253.39" y="814.30" textLength="5.85" lengthAdjust="spacingAndGlyphs">4</text>
<text x="313.09" y="814.30" textLength="5.85" lengthAdjust="spacingAndGlyphs">6</text>
<text x="372.80" y="814.30" textLength="5.85" lengthAdjust="spacingAndGlyphs">8</text>
<text x="429.58" y="814.30" textLength="11.71" lengthAdjust="spacingAndGlyphs">10</text>
<text x="489.29" y="814.30" textLength="11.71" lengthAdjust="spacingAndGlyphs">12</text>
<text x="548.99" y="814.30" textLength="11.71" lengthAdjust="spacingAndGlyphs">14</text>
<text x="116.47" y="805.10" textLength="14.63" lengthAdjust="spacingAndGlyphs">0.0</text>
<text x="116.47" y="766.98" textLength="14.63" lengthAdjust="spacingAndGlyphs">0.2</text>
<text x="116.47" y="728.86" textLength="14.63" lengthAdjust="spacingAndGlyphs">0.4</text>
<text x="116.47" y="690.74" textLength="14.63" lengthAdjust="spacingAndGlyphs">0.6</text>
<text x="116.47" y="652.62" textLength="14.63" lengthAdjust="spacingAndGlyphs">0.8</text>
<text x="116.47" y="614.50" textLength="14.63" lengthAdjust="spacingAndGlyphs">1.0</text>
<text x="352.16" y="826.50" textLength="16.49" lengthAdjust="spacingAndGlyphs">X/D</text>
<text transform="translate(112.40 706.10) rotate(-90)" x="-31.50" y="0" textLength="62.99" lengthAdjust="spacingAndGlyphs">Left deviation</text>
</g>
<rect x="591.60" y="720.50" width="195.80" height="103.50" rx="2.5" fill="#fff" fill-opacity="0.85" stroke="#d4d4d4" stroke-width="1"/>
<path d="M594.2 729.40H620.3" stroke="#000000" stroke-width="3.9"/>
<circle cx="607.6" cy="729.40" r="4.7" fill="#000000"/>
<text x="634.60" y="733.60" font-family="DejaVu Sans, sans-serif" font-size="11.8" fill="#000" textLength="147.80" lengthAdjust="spacingAndGlyphs">Model parameter  (Case 1)</text>
<path d="M596.1 746.10H618.3" stroke="#000000" stroke-width="2.8" stroke-dasharray="9.8 5"/>
<text x="627.30" y="750.30" font-family="DejaVu Sans, sans-serif" font-size="11.8" fill="#000" textLength="155.10" lengthAdjust="spacingAndGlyphs">Polynomial function(Case 1)</text>
<path d="M594.2 762.80H620.3" stroke="#0000ff" stroke-width="3.9"/>
<circle cx="607.6" cy="762.80" r="4.7" fill="#0000ff"/>
<text x="634.60" y="767.00" font-family="DejaVu Sans, sans-serif" font-size="11.8" fill="#000" textLength="147.80" lengthAdjust="spacingAndGlyphs">Model parameter  (Case 2)</text>
<path d="M596.1 779.50H618.3" stroke="#0000ff" stroke-width="2.8" stroke-dasharray="9.8 5"/>
<text x="627.30" y="783.70" font-family="DejaVu Sans, sans-serif" font-size="11.8" fill="#000" textLength="155.10" lengthAdjust="spacingAndGlyphs">Polynomial function(Case 2)</text>
<path d="M594.2 796.20H620.3" stroke="#008000" stroke-width="3.9"/>
<circle cx="607.6" cy="796.20" r="4.7" fill="#008000"/>
<text x="634.60" y="800.40" font-family="DejaVu Sans, sans-serif" font-size="11.8" fill="#000" textLength="147.80" lengthAdjust="spacingAndGlyphs">Model parameter  (Case 3)</text>
<path d="M596.1 812.90H618.3" stroke="#008000" stroke-width="2.8" stroke-dasharray="9.8 5"/>
<text x="627.30" y="817.10" font-family="DejaVu Sans, sans-serif" font-size="11.8" fill="#000" textLength="155.10" lengthAdjust="spacingAndGlyphs">Polynomial function(Case 3)</text>
<defs><clipPath id="clip3"><rect x="137.80" y="899.30" width="447.00" height="193.30"/></clipPath></defs>
<path d="M137.80 899.30V1092.60M197.40 899.30V1092.60M257.00 899.30V1092.60M316.60 899.30V1092.60M376.20 899.30V1092.60M435.80 899.30V1092.60M495.40 899.30V1092.60M555.00 899.30V1092.60M137.80 1092.60H584.80M137.80 1053.94H584.80M137.80 1015.28H584.80M137.80 976.62H584.80M137.80 937.96H584.80M137.80 899.30H584.80" stroke="#cacaca" stroke-width="1" fill="none"/>
<g clip-path="url(#clip3)" fill="none">
<polyline points="435.80,1017.95 438.28,1017.25 440.77,1016.60 443.25,1015.98 445.73,1015.40 448.22,1014.85 450.70,1014.34 453.18,1013.85 455.67,1013.39 458.15,1012.96 460.63,1012.56 463.12,1012.18 465.60,1011.82 468.08,1011.48 470.57,1011.16 473.05,1010.86 475.53,1010.58 478.02,1010.31 480.50,1010.06 482.98,1009.82 485.47,1009.60 487.95,1009.39 490.43,1009.19 492.92,1009.01 495.40,1008.83 497.88,1008.67 500.37,1008.51 502.85,1008.37 505.33,1008.23 507.82,1008.10 510.30,1007.98 512.78,1007.86 515.27,1007.75 517.75,1007.65 520.23,1007.55 522.72,1007.46 525.20,1007.38 527.68,1007.30 530.17,1007.22 532.65,1007.15 535.13,1007.09 537.62,1007.02 540.10,1006.96 542.58,1006.91 545.07,1006.85 547.55,1006.80 550.03,1006.76 552.52,1006.71 555.00,1006.67 557.48,1006.63 559.97,1006.60 562.45,1006.56 564.93,1006.53 567.42,1006.50 569.90,1006.47 572.38,1006.44 574.87,1006.42 577.35,1006.39 579.83,1006.37 582.32,1006.35 584.80,1006.33" stroke="#000000" stroke-width="2.1" stroke-dasharray="2 3.05"/>
<polyline points="435.80,1017.58 438.28,1016.66 440.77,1015.79 443.25,1014.96 445.73,1014.18 448.22,1013.44 450.70,1012.74 453.18,1012.08 455.67,1011.46 458.15,1010.87 460.63,1010.31 463.12,1009.78 465.60,1009.28 468.08,1008.81 470.57,1008.37 473.05,1007.94 475.53,1007.54 478.02,1007.17 480.50,1006.81 482.98,1006.47 485.47,1006.15 487.95,1005.85 490.43,1005.56 492.92,1005.29 495.40,1005.04 497.88,1004.80 500.37,1004.57 502.85,1004.35 505.33,1004.15 507.82,1003.95 510.30,1003.77 512.78,1003.60 515.27,1003.44 517.75,1003.28 520.23,1003.13 522.72,1003.00 525.20,1002.87 527.68,1002.74 530.17,1002.63 532.65,1002.51 535.13,1002.41 537.62,1002.31 540.10,1002.22 542.58,1002.13 545.07,1002.05 547.55,1001.97 550.03,1001.89 552.52,1001.82 555.00,1001.75 557.48,1001.69 559.97,1001.63 562.45,1001.57 564.93,1001.52 567.42,1001.47 569.90,1001.42 572.38,1001.38 574.87,1001.33 577.35,1001.29 579.83,1001.26 582.32,1001.22 584.80,1001.19" stroke="#0000ff" stroke-width="2.1" stroke-dasharray="2 3.05"/>
<polyline points="137.80,1019.53 142.77,1020.99 147.73,1022.41 152.70,1023.77 157.67,1025.08 162.63,1026.34 167.60,1027.55 172.57,1028.70 177.53,1029.81 182.50,1030.87 187.47,1031.88 192.43,1032.84 197.40,1033.74 202.37,1034.60 207.33,1035.40 212.30,1036.16 217.27,1036.86 222.23,1037.52 227.20,1038.12 232.17,1038.68 237.13,1039.18 242.10,1039.63 247.07,1040.04 252.03,1040.39 257.00,1040.69 261.97,1040.94 266.93,1041.14 271.90,1041.29 276.87,1041.39 281.83,1041.44 286.80,1041.44 291.77,1041.39 296.73,1041.28 301.70,1041.13 306.67,1040.93 311.63,1040.68 316.60,1040.37 321.57,1040.02 326.53,1039.61 331.50,1039.16 336.47,1038.65 341.43,1038.10 346.40,1037.49 351.37,1036.83 356.33,1036.13 361.30,1035.37 366.27,1034.56 371.23,1033.70 376.20,1032.79 381.17,1031.83 386.13,1030.82 391.10,1029.76 396.07,1028.65 401.03,1027.49 406.00,1026.28 410.97,1025.02 415.93,1023.70 420.90,1022.34 425.87,1020.93 430.83,1019.46 435.80,1017.95" stroke="#000000" stroke-width="1.6" stroke-dasharray="6 2.8"/>
<polyline points="137.80,986.48 142.77,989.71 147.73,992.85 152.70,995.89 157.67,998.85 162.63,1001.71 167.60,1004.48 172.57,1007.16 177.53,1009.75 182.50,1012.24 187.47,1014.65 192.43,1016.96 197.40,1019.18 202.37,1021.30 207.33,1023.34 212.30,1025.28 217.27,1027.13 222.23,1028.89 227.20,1030.56 232.17,1032.14 237.13,1033.62 242.10,1035.01 247.07,1036.31 252.03,1037.52 257.00,1038.64 261.97,1039.66 266.93,1040.59 271.90,1041.43 276.87,1042.18 281.83,1042.84 286.80,1043.40 291.77,1043.87 296.73,1044.25 301.70,1044.54 306.67,1044.74 311.63,1044.84 316.60,1044.86 321.57,1044.78 326.53,1044.61 331.50,1044.34 336.47,1043.99 341.43,1043.54 346.40,1043.00 351.37,1042.37 356.33,1041.65 361.30,1040.83 366.27,1039.93 371.23,1038.93 376.20,1037.84 381.17,1036.65 386.13,1035.38 391.10,1034.01 396.07,1032.56 401.03,1031.01 406.00,1029.36 410.97,1027.63 415.93,1025.80 420.90,1023.89 425.87,1021.88 430.83,1019.77 435.80,1017.58" stroke="#0000ff" stroke-width="1.6" stroke-dasharray="6 2.8"/>
<polyline points="137.80,1019.73 142.77,1020.26 147.73,1020.83 152.70,1021.42 157.67,1022.05 162.63,1022.70 167.60,1023.37 172.57,1024.08 177.53,1024.82 182.50,1025.58 187.47,1026.37 192.43,1027.19 197.40,1028.04 202.37,1028.91 207.33,1029.82 212.30,1030.75 217.27,1031.71 222.23,1032.70 227.20,1033.72 232.17,1034.76 237.13,1035.83 242.10,1036.94 247.07,1038.07 252.03,1039.22 257.00,1040.41 261.97,1041.62 266.93,1042.87 271.90,1044.14 276.87,1045.43 281.83,1046.76 286.80,1048.12 291.77,1049.50 296.73,1050.91 301.70,1052.35 306.67,1053.82 311.63,1055.32 316.60,1056.84 321.57,1058.39 326.53,1059.97 331.50,1061.58 336.47,1063.22 341.43,1064.88 346.40,1066.58 351.37,1068.30 356.33,1070.05 361.30,1071.83 366.27,1073.63 371.23,1075.47 376.20,1077.33 381.17,1079.22 386.13,1081.14 391.10,1083.09 396.07,1085.06 401.03,1087.06 406.00,1089.10 410.97,1091.16 415.93,1093.24 420.90,1095.36 425.87,1097.50 430.83,1099.68 435.80,1101.88" stroke="#008000" stroke-width="1.6" stroke-dasharray="6 2.8"/>
<polyline points="167.60,1024.56 197.40,1030.74 227.20,1040.02 257.00,1047.95 286.80,1043.89 316.60,1042.73 346.40,1028.42 376.20,1024.56 406.00,1024.56 435.80,1024.56" stroke="#000000" stroke-width="2.5" fill="none" stroke-linejoin="round"/>
<circle cx="167.60" cy="1024.56" r="2.95" fill="#000000"/>
<circle cx="197.40" cy="1030.74" r="2.95" fill="#000000"/>
<circle cx="227.20" cy="1040.02" r="2.95" fill="#000000"/>
<circle cx="257.00" cy="1047.95" r="2.95" fill="#000000"/>
<circle cx="286.80" cy="1043.89" r="2.95" fill="#000000"/>
<circle cx="316.60" cy="1042.73" r="2.95" fill="#000000"/>
<circle cx="346.40" cy="1028.42" r="2.95" fill="#000000"/>
<circle cx="376.20" cy="1024.56" r="2.95" fill="#000000"/>
<circle cx="406.00" cy="1024.56" r="2.95" fill="#000000"/>
<circle cx="435.80" cy="1024.56" r="2.95" fill="#000000"/>
<polyline points="167.60,995.95 197.40,1020.50 227.20,1042.15 257.00,1042.73 286.80,1042.15 316.60,1042.73 346.40,1036.54 376.20,1036.54 406.00,1024.56 435.80,1024.56" stroke="#0000ff" stroke-width="2.5" fill="none" stroke-linejoin="round"/>
<circle cx="167.60" cy="995.95" r="2.95" fill="#0000ff"/>
<circle cx="197.40" cy="1020.50" r="2.95" fill="#0000ff"/>
<circle cx="227.20" cy="1042.15" r="2.95" fill="#0000ff"/>
<circle cx="257.00" cy="1042.73" r="2.95" fill="#0000ff"/>
<circle cx="286.80" cy="1042.15" r="2.95" fill="#0000ff"/>
<circle cx="316.60" cy="1042.73" r="2.95" fill="#0000ff"/>
<circle cx="346.40" cy="1036.54" r="2.95" fill="#0000ff"/>
<circle cx="376.20" cy="1036.54" r="2.95" fill="#0000ff"/>
<circle cx="406.00" cy="1024.56" r="2.95" fill="#0000ff"/>
<circle cx="435.80" cy="1024.56" r="2.95" fill="#0000ff"/>
<polyline points="167.60,1015.28 197.40,1034.22 227.20,1052.01 257.00,1040.41 286.80,1028.42 316.60,1046.21 346.40,1065.54 376.20,1092.60 406.00,1092.60 435.80,1092.60" stroke="#008000" stroke-width="2.5" fill="none" stroke-linejoin="round"/>
<circle cx="167.60" cy="1015.28" r="2.95" fill="#008000"/>
<circle cx="197.40" cy="1034.22" r="2.95" fill="#008000"/>
<circle cx="227.20" cy="1052.01" r="2.95" fill="#008000"/>
<circle cx="257.00" cy="1040.41" r="2.95" fill="#008000"/>
<circle cx="286.80" cy="1028.42" r="2.95" fill="#008000"/>
<circle cx="316.60" cy="1046.21" r="2.95" fill="#008000"/>
<circle cx="346.40" cy="1065.54" r="2.95" fill="#008000"/>
<circle cx="376.20" cy="1092.60" r="2.95" fill="#008000"/>
<circle cx="406.00" cy="1092.60" r="2.95" fill="#008000"/>
<circle cx="435.80" cy="1092.60" r="2.95" fill="#008000"/>
</g>
<rect x="137.95" y="899.45" width="447.00" height="193.30" fill="none" stroke="#808080" stroke-width="1.5"/>
<path d="M137.80 1092.60v3M197.40 1092.60v3M257.00 1092.60v3M316.60 1092.60v3M376.20 1092.60v3M435.80 1092.60v3M495.40 1092.60v3M555.00 1092.60v3M137.80 1092.60h-3M137.80 1053.94h-3M137.80 1015.28h-3M137.80 976.62h-3M137.80 937.96h-3M137.80 899.30h-3" stroke="#333" stroke-width="1"/>
<g font-family="DejaVu Sans, sans-serif" font-size="9.8" fill="#111">
<text x="135.27" y="1105.50" textLength="5.85" lengthAdjust="spacingAndGlyphs">0</text>
<text x="194.87" y="1105.50" textLength="5.85" lengthAdjust="spacingAndGlyphs">2</text>
<text x="254.47" y="1105.50" textLength="5.85" lengthAdjust="spacingAndGlyphs">4</text>
<text x="314.07" y="1105.50" textLength="5.85" lengthAdjust="spacingAndGlyphs">6</text>
<text x="373.67" y="1105.50" textLength="5.85" lengthAdjust="spacingAndGlyphs">8</text>
<text x="430.35" y="1105.50" textLength="11.71" lengthAdjust="spacingAndGlyphs">10</text>
<text x="489.95" y="1105.50" textLength="11.71" lengthAdjust="spacingAndGlyphs">12</text>
<text x="549.55" y="1105.50" textLength="11.71" lengthAdjust="spacingAndGlyphs">14</text>
<text x="117.77" y="1096.30" textLength="14.63" lengthAdjust="spacingAndGlyphs">0.0</text>
<text x="117.77" y="1057.64" textLength="14.63" lengthAdjust="spacingAndGlyphs">0.2</text>
<text x="117.77" y="1018.98" textLength="14.63" lengthAdjust="spacingAndGlyphs">0.4</text>
<text x="117.77" y="980.32" textLength="14.63" lengthAdjust="spacingAndGlyphs">0.6</text>
<text x="117.77" y="941.66" textLength="14.63" lengthAdjust="spacingAndGlyphs">0.8</text>
<text x="117.77" y="903.00" textLength="14.63" lengthAdjust="spacingAndGlyphs">1.0</text>
<text x="353.06" y="1117.70" textLength="16.49" lengthAdjust="spacingAndGlyphs">X/D</text>
<text transform="translate(112.40 995.95) rotate(-90)" x="-34.96" y="0" textLength="69.91" lengthAdjust="spacingAndGlyphs">Right deviation</text>
</g>
<rect x="591.60" y="1011.60" width="195.80" height="103.50" rx="2.5" fill="#fff" fill-opacity="0.85" stroke="#d4d4d4" stroke-width="1"/>
<path d="M594.2 1020.50H620.3" stroke="#000000" stroke-width="3.9"/>
<circle cx="607.6" cy="1020.50" r="4.7" fill="#000000"/>
<text x="634.60" y="1024.70" font-family="DejaVu Sans, sans-serif" font-size="11.8" fill="#000" textLength="147.80" lengthAdjust="spacingAndGlyphs">Model parameter  (Case 1)</text>
<path d="M596.1 1037.20H618.3" stroke="#000000" stroke-width="2.8" stroke-dasharray="9.8 5"/>
<text x="627.30" y="1041.40" font-family="DejaVu Sans, sans-serif" font-size="11.8" fill="#000" textLength="155.10" lengthAdjust="spacingAndGlyphs">Polynomial function(Case 1)</text>
<path d="M594.2 1053.90H620.3" stroke="#0000ff" stroke-width="3.9"/>
<circle cx="607.6" cy="1053.90" r="4.7" fill="#0000ff"/>
<text x="634.60" y="1058.10" font-family="DejaVu Sans, sans-serif" font-size="11.8" fill="#000" textLength="147.80" lengthAdjust="spacingAndGlyphs">Model parameter  (Case 2)</text>
<path d="M596.1 1070.60H618.3" stroke="#0000ff" stroke-width="2.8" stroke-dasharray="9.8 5"/>
<text x="627.30" y="1074.80" font-family="DejaVu Sans, sans-serif" font-size="11.8" fill="#000" textLength="155.10" lengthAdjust="spacingAndGlyphs">Polynomial function(Case 2)</text>
<path d="M594.2 1087.30H620.3" stroke="#008000" stroke-width="3.9"/>
<circle cx="607.6" cy="1087.30" r="4.7" fill="#008000"/>
<text x="634.60" y="1091.50" font-family="DejaVu Sans, sans-serif" font-size="11.8" fill="#000" textLength="147.80" lengthAdjust="spacingAndGlyphs">Model parameter  (Case 3)</text>
<path d="M596.1 1104.00H618.3" stroke="#008000" stroke-width="2.8" stroke-dasharray="9.8 5"/>
<text x="627.30" y="1108.20" font-family="DejaVu Sans, sans-serif" font-size="11.8" fill="#000" textLength="155.10" lengthAdjust="spacingAndGlyphs">Polynomial function(Case 3)</text>
</svg>
</body></html>
